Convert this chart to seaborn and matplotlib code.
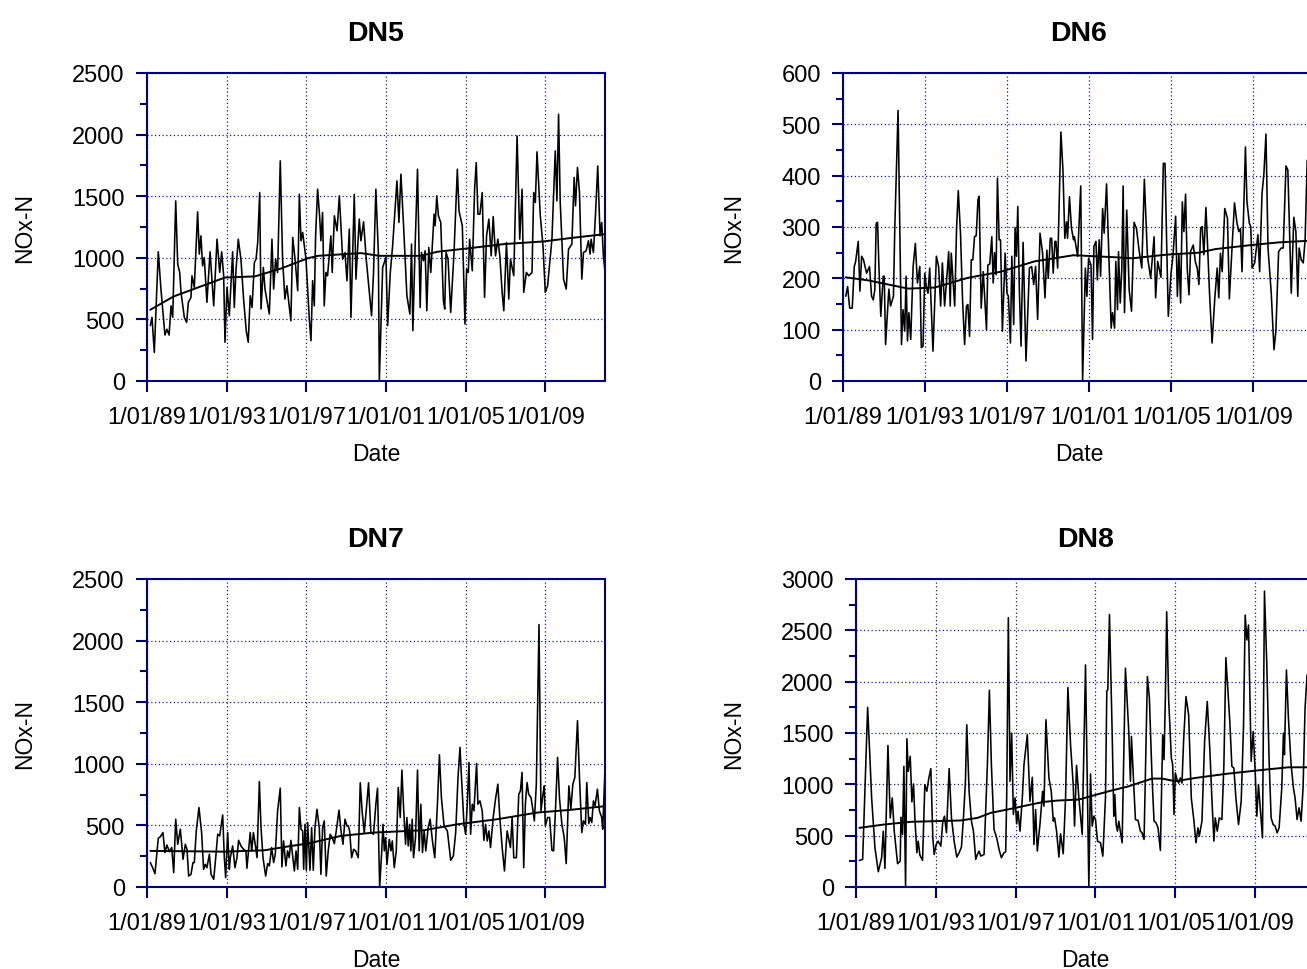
import numpy as np
import pandas as pd
import matplotlib
matplotlib.use("Agg")
import matplotlib.pyplot as plt
from matplotlib.ticker import MultipleLocator, NullLocator
import seaborn as sns

# ---------------------------------------------------------------
# Data: time in months since 1/01/89, NOx-N values
# ---------------------------------------------------------------
dn5_month = [2.0, 3.0, 4.4, 6.8, 8.4, 10.8, 12.0, 13.3, 14.5, 15.5, 17.3, 18.5, 19.7, 20.5, 22.5, 23.9,
             24.9, 26.5, 27.1, 28.5, 30.5, 31.5, 32.5, 33.5, 34.5, 36.1, 38.0, 40.2, 42.2, 43.8, 45.0,
             46.2, 47.0, 48.2, 49.6, 51.6, 52.6, 53.6, 55.0, 56.6, 58.2, 59.8, 61.0, 62.2, 63.3, 64.7,
             65.7, 66.7, 67.9, 68.7, 70.1, 71.1, 73.7, 75.3, 76.3, 77.5, 78.7, 80.3, 81.7, 83.1, 84.3,
             86.7, 87.8, 89.2, 90.8, 91.8, 92.8, 93.8, 95.8, 97.8, 98.8, 99.8, 100.8, 101.6, 102.8,
             104.0, 104.8, 105.8, 106.8, 107.8, 108.8, 110.8, 111.6, 112.9, 114.5, 115.9, 117.9, 119.3,
             120.5, 121.9, 122.9, 124.9, 125.9, 127.9, 128.9, 130.5, 132.1, 135.3, 136.5, 137.9, 139.4,
             140.0, 142.0, 144.0, 145.0, 146.6, 148.0, 150.6, 151.8, 153.0, 154.6, 156.6, 158.4, 159.4,
             160.2, 161.6, 163.0, 164.6, 165.4, 166.6, 167.6, 168.6, 169.8, 171.0, 173.0, 173.6, 174.6,
             175.6, 177.0, 178.6, 179.4, 180.2, 181.4, 183.0, 185.0, 187.0, 188.0, 190.0, 191.6, 192.6,
             193.6, 194.4, 196.0, 197.4, 198.4, 199.4, 200.6, 202.0, 203.4, 204.6, 206.0, 207.4, 208.6,
             210.0, 211.4, 212.6, 214.0, 215.0, 216.6, 218.0, 219.0, 221.0, 223.0, 224.6, 226.0, 227.0,
             228.6, 230.0, 232.0, 233.0, 234.0, 235.0, 237.0, 238.6, 240.0, 241.4, 243.0, 244.0, 246.0,
             247.0, 248.0, 249.0, 251.0, 252.6, 254.0, 256.0, 257.4, 258.2, 259.4, 260.6, 262.0, 263.0,
             264.6, 266.0, 267.0, 267.6, 269.0, 270.2, 271.6, 273.0, 274.0, 275.0, 276.0]
dn5_value = [450, 516, 232, 1049, 746, 373, 420, 373, 610, 516, 1462, 949, 881, 719, 516, 475,
             638, 678, 854, 760, 1373, 1030, 1178, 935, 1003, 638, 1049, 610, 1151, 881, 1049,
             854, 314, 760, 530, 1049, 597, 895, 1151, 989, 665, 408, 314, 692, 597, 962,
             989, 1124, 1530, 584, 922, 746, 543, 1151, 746, 989, 881, 1787, 989, 665, 773,
             489, 1165, 989, 733, 1516, 1138, 1206, 989, 503, 327, 814, 610, 1178, 1557,
             1341, 1138, 1368, 610, 881, 854, 1178, 881, 1341, 1219, 1503, 989, 1043,
             814, 1233, 516, 1516, 827, 1314, 1138, 1292, 989, 530, 881, 1557, 1043,
             0, 922, 1003, 449, 881, 1097, 1624, 1287, 1679, 1260, 692, 543, 1111,
             408, 1111, 1719, 597, 1043, 976, 1057, 570, 1084, 881, 1354, 1260, 1503,
             1341, 1287, 651, 584, 1043, 989, 557, 1043, 1719, 1381, 1260, 462, 908,
             881, 1151, 895, 1557, 1773, 1354, 1354, 1530, 678, 1178, 1314, 1016, 1335,
             1016, 1151, 1016, 719, 570, 1124, 665, 989, 854, 1989, 1151, 1557, 719,
             881, 854, 881, 1530, 1449, 1860, 1341, 1097, 719, 773, 1003, 1151, 1868,
             1462, 2165, 1449, 827, 746, 1070, 1111, 1652, 1422, 1733, 1530, 827, 1043,
             1057, 1138, 1030, 1151, 1043, 1341, 1746, 1178, 1287, 1016, 881]
dn5_trend_month = [2, 16, 47, 65, 81, 97, 103, 129, 140, 165, 175, 193, 215, 239, 255, 276]
dn5_trend_value = [578, 686, 840, 849, 914, 997, 1016, 1038, 1016, 1016, 1049, 1076, 1111, 1133, 1160, 1192]

dn6_month = [1.6, 2.7, 3.9, 5.4, 6.6, 7.4, 8.9, 9.9, 10.9, 12.0, 13.8, 15.5, 16.7, 17.7, 18.6, 19.4,
             20.2, 21.0, 22.1, 23.5, 24.1, 24.9, 26.8, 27.8, 29.5, 30.3, 32.2, 34.2, 35.1, 36.1, 36.9,
             37.7, 38.5, 39.6, 41.0, 42.3, 43.5, 44.9, 45.8, 46.8, 47.8, 48.7, 49.7, 50.7, 52.6, 54.6,
             55.9, 57.1, 58.1, 59.4, 60.6, 61.8, 62.7, 63.3, 65.3, 66.4, 67.4, 68.7, 69.9, 71.1, 72.2,
             73.0, 74.0, 75.0, 75.9, 76.9, 77.9, 78.9, 79.6, 80.8, 82.0, 83.9, 84.7, 85.8, 87.0, 87.8,
             88.6, 89.5, 90.3, 91.3, 92.1, 93.2, 94.8, 95.9, 96.7, 97.9, 98.7, 99.8, 100.6, 101.4,
             102.2, 103.1, 104.1, 105.3, 107.0, 109.0, 110.3, 111.5, 112.6, 113.8, 115.2, 116.7,
             118.1, 119.2, 120.0, 121.2, 122.0, 122.9, 123.9, 124.5, 125.5, 127.4, 128.6, 129.7,
             130.7, 131.3, 132.4, 133.6, 134.8, 135.3, 137.2, 139.0, 140.1, 141.7, 142.6, 143.6,
             145.0, 145.9, 146.7, 147.9, 148.7, 149.8, 150.6, 151.8, 152.7, 154.1, 155.3, 156.8,
             157.6, 158.8, 159.5, 160.5, 161.1, 162.1, 163.0, 163.8, 164.6, 165.9, 167.3, 168.7,
             170.2, 171.6, 173.1, 174.7, 176.2, 178.0, 179.9, 181.9, 182.8, 184.0, 185.9, 187.3,
             188.3, 189.2, 190.2, 191.8, 192.9, 194.5, 195.5, 196.4, 197.4, 198.4, 199.3, 200.3,
             201.3, 202.3, 203.2, 204.8, 206.1, 207.1, 208.1, 209.1, 210.0, 211.0, 212.2, 212.9,
             214.3, 215.8, 217.4, 218.8, 219.7, 220.7, 221.7, 223.2, 224.8, 225.9, 227.5, 228.9,
             230.4, 231.4, 232.4, 233.3, 235.3, 236.2, 237.6, 238.4, 239.2, 240.7, 242.6, 243.6,
             245.0, 246.1, 247.3, 248.5, 250.4, 252.0, 253.1, 254.7, 256.2, 257.4, 259.0, 260.1,
             262.1, 263.6, 264.8, 265.9, 266.7, 267.9, 269.1, 270.2, 271.4]
dn6_value = [165, 184, 142, 142, 223, 233, 272, 175, 243, 236, 210, 223, 165, 158, 178, 307,
             309, 223, 126, 204, 204, 71, 179, 146, 165, 301, 527, 71, 139, 97, 204,
             78, 133, 81, 223, 268, 191, 223, 65, 68, 210, 184, 171, 220, 58, 243,
             223, 146, 230, 146, 197, 252, 146, 249, 146, 297, 371, 288, 158, 71, 146,
             149, 87, 236, 236, 281, 283, 353, 360, 142, 213, 100, 226, 228, 281, 191,
             250, 207, 395, 275, 275, 97, 249, 171, 165, 74, 243, 110, 299, 243,
             340, 178, 68, 270, 39, 220, 223, 188, 223, 120, 288, 249,
             162, 255, 200, 278, 278, 210, 272, 272, 220, 485, 411, 278,
             310, 278, 359, 297, 275, 281, 243, 380, 0, 220, 165, 239,
             226, 81, 262, 272, 197, 275, 204, 336, 288, 384, 262, 103,
             133, 103, 233, 139, 252, 152, 217, 380, 133, 333, 178, 136,
             309, 297, 255, 220, 393, 243, 200, 281, 162, 233, 202, 424,
             424, 275, 126, 210, 243, 321, 165, 246, 152, 349, 291, 364,
             217, 168, 252, 265, 231, 220, 188, 297, 301, 246, 338, 285,
             171, 74, 162, 220, 162, 249, 213, 336, 317, 160, 262, 347,
             307, 291, 297, 213, 456, 349, 307, 301, 220, 230, 285, 213,
             365, 404, 481, 259, 171, 61, 97, 252, 259, 259, 419, 411,
             171, 319, 291, 165, 259, 236, 230, 275, 430]
dn6_trend_month = [1.6, 14.8, 26.4, 38.1, 53.6, 73.0, 92.4, 111.9, 134.8, 159.5, 169.2, 188.7,
                   208.1, 217.8, 239.2, 254.7, 271.4, 276.0]
dn6_trend_value = [202, 196, 188, 180, 182, 201, 213, 233, 245, 241, 239, 246,
                   250, 257, 265, 270, 273, 274]

dn7_month = [2.0, 3.4, 4.8, 6.8, 8.0, 9.6, 10.8, 12.0, 13.5, 14.9, 16.1, 17.3, 18.5, 20.1, 21.7, 23.1,
             24.1, 25.1, 26.5, 27.7, 28.5, 29.7, 31.3, 32.9, 34.1, 35.1, 36.1, 37.6, 38.6, 40.2, 41.4,
             42.6, 43.8, 45.6, 46.6, 47.4, 48.6, 49.6, 50.2, 51.6, 53.0, 54.2, 55.2, 56.6, 58.2, 59.6,
             60.2, 61.2, 62.2, 63.1, 64.1, 65.5, 66.3, 67.7, 68.7, 69.9, 71.5, 72.7, 73.7, 75.1, 76.3,
             77.3, 78.7, 80.3, 81.3, 82.3, 83.7, 84.7, 85.7, 86.7, 87.8, 88.8, 89.8, 90.8, 91.8, 92.8,
             93.8, 94.4, 95.2, 96.0, 96.8, 98.2, 99.2, 100.2, 101.2, 102.4, 103.8, 104.8, 105.8, 106.8,
             108.0, 109.2, 110.4, 111.6, 112.9, 113.9, 115.7, 116.9, 118.1, 119.3, 120.5, 121.3, 122.1,
             123.3, 124.5, 125.7, 127.3, 128.5, 129.7, 130.9, 131.9, 133.5, 134.9, 136.5, 137.9, 138.9,
             140.2, 141.4, 142.2, 143.0, 143.8, 144.6, 146.0, 147.0, 147.8, 149.0, 150.2, 151.4, 152.6,
             153.6, 154.6, 155.8, 156.6, 157.4, 158.2, 159.0, 159.8, 160.6, 161.8, 163.0, 164.0, 165.0,
             166.0, 167.0, 168.0, 169.4, 170.6, 172.0, 173.4, 175.0, 176.2, 177.4, 179.0, 181.0, 183.0,
             184.6, 186.0, 187.4, 188.6, 189.6, 191.0, 192.0, 193.0, 194.0, 195.0, 196.0, 197.0, 198.6,
             199.4, 200.6, 202.0, 203.0, 204.0, 205.0, 206.0, 207.0, 208.6, 210.0, 211.4, 212.6, 214.0,
             215.4, 217.0, 219.0, 220.0, 221.0, 222.6, 224.0, 225.0, 226.0, 227.0, 228.0, 229.0, 230.0,
             231.4, 232.6, 233.4, 234.6, 236.2, 237.4, 238.6, 239.4, 240.0, 241.4, 242.6, 244.0, 245.0,
             246.2, 247.4, 248.6, 250.0, 251.4, 252.6, 254.2, 255.4, 256.6, 257.8, 259.4, 260.6, 262.0,
             263.0, 264.2, 265.0, 266.2, 267.0, 268.0, 269.0, 270.0, 271.4, 272.6, 274.0, 274.6, 276.0]
dn7_value = [198, 157, 108, 396, 407, 442, 279, 341, 287, 320, 117, 550, 347, 469, 225, 347,
             306, 89, 103, 198, 198, 455, 645, 442, 144, 184, 157, 266, 103, 62, 238,
             428, 415, 585, 238, 76, 442, 144, 238, 333, 157, 238, 379, 333, 306, 293,
             152, 293, 442, 293, 442, 320, 238, 856, 482, 238, 89, 190, 171, 320, 198,
             266, 618, 802, 163, 374, 171, 293, 238, 379, 252, 130, 293, 144, 645, 469,
             455, 144, 509, 136, 523, 136, 482, 136, 482, 631, 482, 103, 482, 537,
             89, 293, 428, 401, 352, 442, 623, 455, 347, 550, 496, 496, 455,
             238, 306, 293, 238, 846, 604, 442, 591, 846, 442, 428, 672, 802,
             0, 279, 509, 293, 401, 184, 387, 293, 374, 157, 293, 808, 564,
             949, 645, 347, 564, 333, 509, 293, 550, 238, 401, 949, 293, 672,
             279, 455, 293, 482, 550, 374, 238, 672, 1073, 726, 496, 455, 217,
             252, 442, 889, 1133, 862, 509, 428, 672, 1011, 428, 672, 618, 1003,
             672, 699, 618, 379, 509, 374, 455, 320, 564, 713, 835, 564, 320,
             130, 455, 320, 564, 238, 238, 753, 780, 930, 157, 672, 848, 753,
             726, 618, 537, 835, 2130, 618, 753, 821, 496, 564, 564, 298, 293,
             645, 1052, 713, 509, 401, 190, 821, 631, 835, 889, 1350, 889, 442,
             537, 509, 848, 515, 564, 523, 699, 659, 794, 618, 564, 469, 970]
dn7_trend_month = [2.0, 46.6, 70.7, 86.7, 96.8, 116.9, 136.9, 167, 187, 211, 235, 255, 276]
dn7_trend_value = [293, 287, 298, 333, 352, 415, 442, 461, 509, 550, 604, 626, 656]

dn8_month = [2.0, 4.0, 7.0, 8.2, 9.4, 11.4, 13.4, 15.4, 16.4, 17.4, 19.2, 20.6, 21.8, 23.0, 25.0, 26.6,
             27.0, 28.0, 28.8, 29.8, 30.6, 31.4, 32.6, 33.6, 34.6, 35.4, 36.6, 37.4, 38.4, 40.0, 41.4,
             42.6, 43.8, 45.0, 46.2, 47.0, 48.2, 49.4, 51.0, 52.2, 53.2, 54.4, 56.0, 57.4, 59.0, 60.6,
             62.0, 63.4, 64.6, 65.8, 66.6, 68.0, 69.4, 70.6, 72.0, 73.0, 74.0, 75.0, 77.0, 79.0, 80.2,
             81.4, 83.0, 84.6, 86.0, 87.4, 89.0, 90.0, 90.6, 91.6, 92.6, 93.6, 94.6, 95.6, 96.6, 97.4,
             98.6, 100.0, 101.0, 103.0, 104.6, 106.0, 107.0, 108.0, 109.0, 110.6, 112.2, 113.0, 114.2,
             116.0, 117.4, 118.6, 119.4, 120.6, 122.0, 123.0, 124.6, 126.0, 127.4, 129.0, 130.6, 131.4,
             132.6, 134.0, 136.0, 138.0, 139.2, 140.0, 141.0, 142.0, 143.0, 144.0, 145.2, 147.0, 148.4,
             150.0, 150.8, 151.4, 152.4, 154.0, 155.0, 155.6, 156.4, 157.2, 158.0, 160.0, 162.0, 164.0,
             165.0, 165.6, 166.4, 168.0, 169.6, 171.0, 172.0, 173.2, 175.2, 176.4, 178.0, 179.2, 180.4,
             181.6, 183.0, 184.4, 185.2, 186.0, 186.8, 188.0, 189.6, 190.4, 191.2, 192.0, 193.0, 194.0,
             195.0, 196.0, 197.0, 198.4, 200.0, 201.6, 203.2, 204.4, 205.6, 206.4, 208.0, 209.6, 211.2,
             212.8, 214.0, 215.2, 216.0, 217.2, 218.4, 220.0, 221.2, 222.4, 224.0, 224.8, 226.0, 227.2,
             228.4, 230.0, 231.6, 233.0, 234.0, 235.0, 236.0, 237.6, 238.8, 240.0, 241.0, 242.0, 243.2,
             244.4, 245.6, 247.0, 248.4, 249.6, 250.8, 252.0, 253.2, 254.4, 256.0, 257.0, 257.6, 258.8,
             260.0, 261.6, 263.0, 264.0, 265.2, 266.4, 267.6, 268.8, 270.0, 271.2]
dn8_value = [259, 269, 1749, 1321, 868, 382, 149, 285, 544, 181, 1379, 673, 868, 544, 227, 253,
             680, 512, 1175, 0, 1444, 1127, 1273, 829, 1004, 673, 334, 447, 311, 259, 997,
             933, 1062, 1153, 479, 317, 414, 447, 398, 641, 690, 528, 1153, 673, 447, 291,
             334, 389, 673, 1030, 1580, 933, 641, 544, 269, 317, 350, 301, 317, 1192, 1917,
             1192, 560, 479, 366, 285, 334, 343, 868, 2623, 1030, 1499, 706, 868, 615, 738,
             544, 868, 1192, 1483, 835, 1069, 414, 754, 350, 609, 933, 787, 1629,
             1062, 933, 641, 673, 544, 291, 518, 324, 868, 1943, 1386, 997, 593,
             1185, 868, 512, 2163, 868, 0, 1101, 593, 690, 657, 447, 431, 301,
             868, 1910, 1920, 2655, 1515, 690, 900, 609, 544, 641, 431, 2131, 1515,
             1030, 1467, 1192, 657, 648, 544, 528, 463, 2050, 1839, 1062, 641, 625,
             576, 356, 1483, 1240, 1839, 2681, 1823, 1256, 1192, 706, 1111, 1046, 1013,
             1062, 1013, 1434, 1855, 1677, 868, 641, 431, 576, 495, 641, 1418, 1807,
             1321, 852, 447, 673, 544, 673, 657, 1192, 2234, 1807, 1596, 1175, 1159,
             868, 609, 835, 1564, 2649, 2406, 2552, 1224, 1515, 1127, 690, 997, 738,
             479, 2882, 2163, 1224, 673, 609, 593, 528, 576, 965, 1499, 1289, 2114,
             1645, 1192, 965, 868, 657, 771, 641, 965, 1742, 2066]
dn8_trend_month = [2, 17, 33, 47, 63, 73, 81, 93, 105, 113, 121, 134, 152, 164, 178, 184, 192,
                   204, 222, 240, 252, 260, 271.2, 276]
dn8_trend_value = [576, 609, 635, 641, 648, 673, 722, 761, 803, 829, 842, 852, 933, 981, 1056, 1056, 1030,
                   1062, 1101, 1133, 1153, 1166, 1166, 1170]

xtick_years = [1989, 1993, 1997, 2001, 2005, 2009]
xtick_labels = ["1/01/89", "1/01/93", "1/01/97", "1/01/01", "1/01/05", "1/01/09"]

# ---------------------------------------------------------------
# Style
# ---------------------------------------------------------------
sns.set_theme(style="ticks")
plt.rcParams["font.family"] = ["Liberation Sans", "DejaVu Sans"]
plt.rcParams.update({"text.color": "black", "axes.labelcolor": "black",
                     "xtick.labelcolor": "black", "ytick.labelcolor": "black"})

NAVY = "#000080"
GRID_BLUE = "#1818a8"
START = pd.Timestamp("1989-01-01")
END = pd.Timestamp("2012-01-01")


def to_dates(months):
    return START + pd.to_timedelta(np.asarray(months, dtype=float) * 30.4375, unit="D")


W, H = 1307, 970
fig = plt.figure(figsize=(W / 100, H / 100), dpi=100)

# name, series, trend, y max, y step, axes box in pixels (left, top, width, height)
panels = [
    ("DN5", dn5_month, dn5_value, dn5_trend_month, dn5_trend_value, 2500, 500, (147, 74, 458, 308)),
    ("DN6", dn6_month, dn6_value, dn6_trend_month, dn6_trend_value, 600, 100, (843, 74, 472, 308)),
    ("DN7", dn7_month, dn7_value, dn7_trend_month, dn7_trend_value, 2500, 500, (147, 580, 458, 308)),
    ("DN8", dn8_month, dn8_value, dn8_trend_month, dn8_trend_value, 3000, 500, (856, 580, 459, 308)),
]

for name, t, v, tt, tv, ymax, ystep, (px, py, pw, ph) in panels:
    ax = fig.add_axes([px / W, 1 - (py + ph) / H, pw / W, ph / H])

    series = pd.DataFrame({"Date": to_dates(t), "NOx-N": v})
    trend = pd.DataFrame({"Date": to_dates(tt), "NOx-N": tv})
    sns.lineplot(data=series, x="Date", y="NOx-N", ax=ax, color="black",
                 linewidth=1.15, estimator=None, sort=False)
    sns.lineplot(data=trend, x="Date", y="NOx-N", ax=ax, color="black",
                 linewidth=1.4, estimator=None, sort=False)

    ax.set_xlim(START, END)
    ax.set_ylim(0, ymax)
    ax.set_xticks(pd.to_datetime([f"{y}-01-01" for y in xtick_years]))
    ax.set_xticklabels(xtick_labels)
    ax.xaxis.set_minor_locator(NullLocator())
    ax.yaxis.set_major_locator(MultipleLocator(ystep))
    ax.yaxis.set_minor_locator(MultipleLocator(ystep / 2))

    ax.grid(True, which="major", color=GRID_BLUE, linestyle=(0, (1, 2)), linewidth=0.9)
    ax.set_axisbelow(True)
    for s in ax.spines.values():
        s.set_visible(True)
        s.set_color(NAVY)
        s.set_linewidth(1.5)

    ax.tick_params(axis="both", which="major", direction="out", length=8, width=1.5,
                   color=NAVY, labelsize=17, labelcolor="black")
    ax.tick_params(axis="y", which="minor", direction="out", length=5, width=1.5, color=NAVY)
    ax.tick_params(axis="x", which="major", pad=10)
    ax.tick_params(axis="y", which="major", pad=8)

    ax.set_title(name, fontsize=20.5, fontweight="bold", pad=24, color="black")
    ax.set_xlabel("Date", fontsize=16.5, labelpad=10)
    ax.set_ylabel("NOx-N", fontsize=16.5, labelpad=26)

fig.savefig("out.png", dpi=100, facecolor="white")
